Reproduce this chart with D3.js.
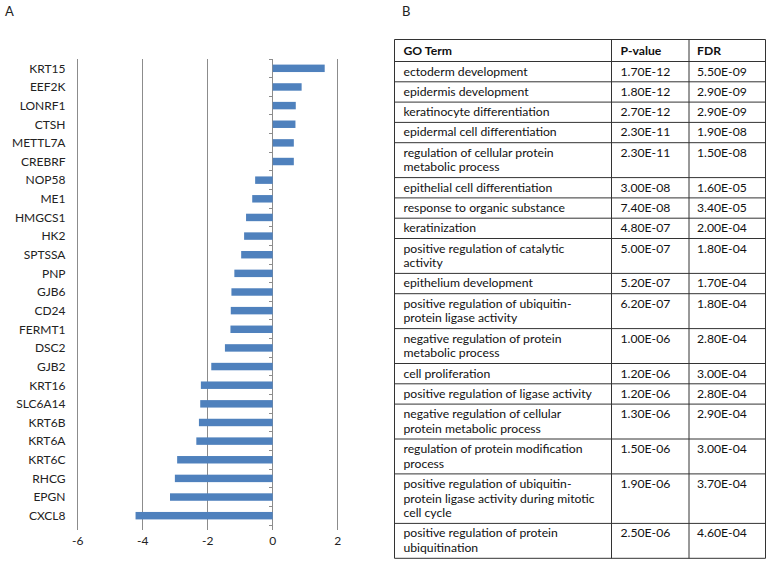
<!DOCTYPE html>
<html><head><meta charset="utf-8">
<script src="https://cdn.jsdelivr.net/npm/d3@7"></script>
<style>body{margin:0;background:#fff}svg{display:block}text{font-family:Lato,"Open Sans",sans-serif}</style>
</head><body>
<svg id="c" width="771" height="564"></svg>
<script>
// ---- Panel A data ----
const genes = ["KRT15","EEF2K","LONRF1","CTSH","METTL7A","CREBRF","NOP58","ME1","HMGCS1","HK2","SPTSSA","PNP","GJB6","CD24","FERMT1","DSC2","GJB2","KRT16","SLC6A14","KRT6B","KRT6A","KRT6C","RHCG","EPGN","CXCL8"];
const foldChange = [1.60,0.89,0.71,0.70,0.65,0.65,-0.54,-0.63,-0.82,-0.88,-0.97,-1.18,-1.27,-1.29,-1.30,-1.47,-1.89,-2.21,-2.23,-2.27,-2.35,-2.94,-3.01,-3.16,-4.22];
const xTicks = [-6,-4,-2,0,2];

// ---- Panel B data ----
const tableHeader = ["GO Term","P-value","FDR"];
const goTerms = [
  ["ectoderm development"],
  ["epidermis development"],
  ["keratinocyte differentiation"],
  ["epidermal cell differentiation"],
  ["regulation of cellular protein","metabolic process"],
  ["epithelial cell differentiation"],
  ["response to organic substance"],
  ["keratinization"],
  ["positive regulation of catalytic","activity"],
  ["epithelium development"],
  ["positive regulation of ubiquitin-","protein ligase activity"],
  ["negative regulation of protein","metabolic process"],
  ["cell proliferation"],
  ["positive regulation of ligase activity"],
  ["negative regulation of cellular","protein metabolic process"],
  ["regulation of protein modification","process"],
  ["positive regulation of ubiquitin-","protein ligase activity during mitotic","cell cycle"],
  ["positive regulation of protein","ubiquitination"]
];
const pValues = ["1.70E-12","1.80E-12","2.70E-12","2.30E-11","2.30E-11","3.00E-08","7.40E-08","4.80E-07","5.00E-07","5.20E-07","6.20E-07","1.00E-06","1.20E-06","1.20E-06","1.30E-06","1.50E-06","1.90E-06","2.50E-06"];
const fdrValues = ["5.50E-09","2.90E-09","2.90E-09","1.90E-08","1.50E-08","1.60E-05","3.40E-05","2.00E-04","1.80E-04","1.70E-04","1.80E-04","2.80E-04","3.00E-04","2.80E-04","2.90E-04","3.00E-04","3.70E-04","4.60E-04"];

const svg = d3.select("#c");
svg.append("rect").attr("width",771).attr("height",564).attr("fill","#fff");

// Panel letters
svg.append("text").attr("x",5).attr("y",15.5).attr("font-size",13).attr("fill","#222").text("A");
svg.append("text").attr("x",402).attr("y",15.5).attr("font-size",13).attr("fill","#222").text("B");

// ---- Bar chart ----
const x = d3.scaleLinear().domain([-6,2]).range([77.7,337.7]);
const y = d3.scaleBand().domain(genes).range([59,525]).paddingInner(0.6).paddingOuter(0.3);
const plotTop = 59, plotBot = 525;

const g = svg.append("g");
g.selectAll("line.grid").data(xTicks).join("line")
  .attr("x1",d=>x(d)).attr("x2",d=>x(d)).attr("y1",plotTop).attr("y2",plotBot+5)
  .attr("stroke","#8c8c8c").attr("stroke-width",1).attr("shape-rendering","crispEdges");

g.selectAll("text.xt").data(xTicks).join("text")
  .attr("x",d=>x(d)).attr("y",545).attr("text-anchor","middle")
  .attr("font-size",12).attr("fill","#222").text(d=>d);

g.selectAll("rect.bar").data(genes).join("rect")
  .attr("x",(d,i)=>x(Math.min(0,foldChange[i])))
  .attr("width",(d,i)=>Math.abs(x(foldChange[i])-x(0)))
  .attr("y",d=>y(d)).attr("height",y.bandwidth())
  .attr("fill","#4f81bd");

const step = y.step();
const bounds = d3.range(genes.length+1).map(i=>plotTop + i*step);
g.selectAll("line.ct").data(bounds).join("line")
  .attr("x1",x(0)-4).attr("x2",x(0)).attr("y1",d=>d).attr("y2",d=>d)
  .attr("stroke","#8c8c8c").attr("shape-rendering","crispEdges");

g.selectAll("text.cat").data(genes).join("text")
  .attr("x",65.5).attr("y",d=>y(d)+y.bandwidth()/2).attr("dy","0.36em")
  .attr("text-anchor","end").attr("font-size",12).attr("fill","#222").text(d=>d);

// ---- Table ----
const colX = [394.5,611.5,689,765.5];
const padX = [9,9,8];
const fs = 12.2, lineH = 14.6, baseH = 20.3, headH = 22, tTop = 39.5;
const rows = [{cells:[[tableHeader[0]],[tableHeader[1]],[tableHeader[2]]], h:headH, bold:true}];
goTerms.forEach((t,i)=>rows.push({cells:[t,[pValues[i]],[fdrValues[i]]], h:baseH+(t.length-1)*lineH, bold:false}));
let yy = tTop;
rows.forEach(r=>{r.y=yy; yy+=r.h;});
const tBot = yy;

const tg = svg.append("g");
rows.forEach(r=>{
  r.cells.forEach((lines,ci)=>{
    lines.forEach((ln,li)=>{
      tg.append("text").attr("x",colX[ci]+padX[ci]).attr("y",r.y+(r.bold?15:14)+li*lineH)
        .attr("font-size",fs).attr("fill","#111")
        .attr("font-weight",r.bold?"bold":"normal").text(ln);
    });
  });
});
const hl = rows.map(r=>r.y).concat([tBot]);
tg.selectAll("line.h").data(hl).join("line")
  .attr("x1",colX[0]).attr("x2",colX[3]).attr("y1",d=>d).attr("y2",d=>d)
  .attr("stroke","#333").attr("stroke-width",1);
tg.selectAll("line.v").data(colX).join("line")
  .attr("x1",d=>d).attr("x2",d=>d).attr("y1",tTop).attr("y2",tBot)
  .attr("stroke","#333").attr("stroke-width",1);
</script>
</body></html>
